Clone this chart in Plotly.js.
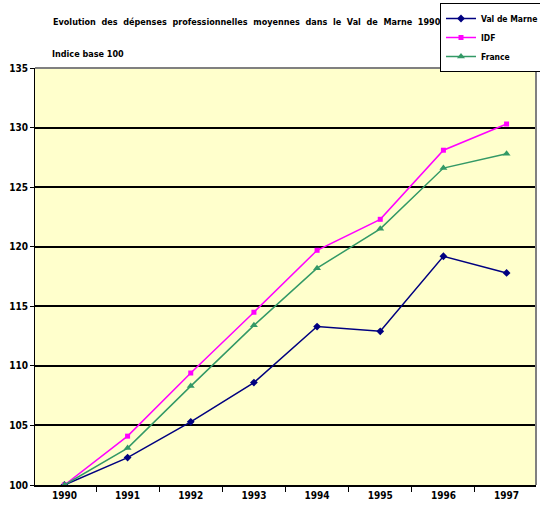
<!DOCTYPE html>
<html><head><meta charset="utf-8">
<script src="https://cdn.plot.ly/plotly-3.0.1.min.js"></script>
<style>body{margin:0;padding:0;background:#fff}#chart{width:540px;height:507px}</style>
</head><body><div id="chart"></div>
<script>
const years = ['1990','1991','1992','1993','1994','1995','1996','1997'];
const valDeMarne = [100, 102.3, 105.3, 108.6, 113.3, 112.9, 119.2, 117.8];
const idf = [100, 104.1, 109.4, 114.5, 119.7, 122.3, 128.1, 130.3];
const france = [100, 103.1, 108.3, 113.4, 118.2, 121.5, 126.6, 127.8];
const yTicks = [100, 105, 110, 115, 120, 125, 130, 135];

const FONT = 'DejaVu Sans Condensed, DejaVu Sans, sans-serif';

const traces = [
  {x: years, y: valDeMarne, name: 'Val de Marne', type: 'scatter', mode: 'lines+markers',
   line: {color: '#000080', width: 1.5}, marker: {symbol: 'diamond', size: 6, color: '#000080'}},
  {x: years, y: idf, name: 'IDF', type: 'scatter', mode: 'lines+markers',
   line: {color: '#FF00FF', width: 1.5}, marker: {symbol: 'square', size: 5, color: '#FF00FF'}},
  {x: years, y: france, name: 'France', type: 'scatter', mode: 'lines+markers',
   line: {color: '#339966', width: 1.5}, marker: {symbol: 'triangle-up', size: 7, color: '#339966'}}
];

const layout = {
  width: 540, height: 507,
  margin: {l: 35, r: 4, t: 68, b: 22, autoexpand: false},
  paper_bgcolor: '#ffffff',
  plot_bgcolor: '#FFFFCC',
  font: {family: FONT, size: 10, color: '#000', weight: 'bold'},
  title: {
    text: 'Evolution  des  dépenses  professionnelles  moyennes  dans  le  Val  de  Marne  1990',
    xref: 'container', yref: 'container', x: 53/540, xanchor: 'left', y: 1 - 22/507, yanchor: 'middle',
    font: {family: FONT, size: 9, color: '#000', weight: 'bold'}
  },
  xaxis: {
    type: 'category', tickvals: years, ticktext: years,
    tickson: 'boundaries', ticks: 'outside', ticklen: 5, tickcolor: '#000', tickwidth: 1,
    showline: true, linecolor: '#000', linewidth: 2,
    showgrid: false, zeroline: false, fixedrange: true,
    tickfont: {family: FONT, size: 10, color: '#000', weight: 'bold'}
  },
  yaxis: {
    range: [100, 135], tickvals: yTicks, ticktext: yTicks.map(String),
    ticks: 'outside', ticklen: 4, tickcolor: '#000', tickwidth: 1,
    showline: true, linecolor: '#000', linewidth: 1,
    showgrid: true, gridcolor: '#000', gridwidth: 2, zeroline: false, fixedrange: true,
    tickfont: {family: FONT, size: 10, color: '#000', weight: 'bold'}
  },
  showlegend: true,
  legend: {
    xref: 'container', yref: 'container',
    x: 440 / 540, xanchor: 'left', y: 1 - 3 / 507, yanchor: 'top',
    bgcolor: '#ffffff', bordercolor: '#000', borderwidth: 1,
    font: {family: FONT, size: 8.5, color: '#000', weight: 'bold'},
    tracegroupgap: 0, itemwidth: 30
  },
  shapes: [
    {type: 'line', xref: 'paper', yref: 'paper', x0: 0, x1: 1, y0: 1, y1: 1, line: {color: '#808080', width: 2}, layer: 'above'},
    {type: 'line', xref: 'paper', yref: 'paper', x0: 1, x1: 1, y0: 0, y1: 1, line: {color: '#808080', width: 2}, layer: 'above'}
  ],
  annotations: [
    {text: 'Indice base 100', xref: 'paper', yref: 'paper', x: (50 - 35) / 501, xanchor: 'left',
     y: (485 - 54) / 417, yanchor: 'middle', showarrow: false,
     font: {family: FONT, size: 9, color: '#000', weight: 'bold'}}
  ]
};

Plotly.newPlot('chart', traces, layout, {displayModeBar: false, staticPlot: true});
</script></body></html>
